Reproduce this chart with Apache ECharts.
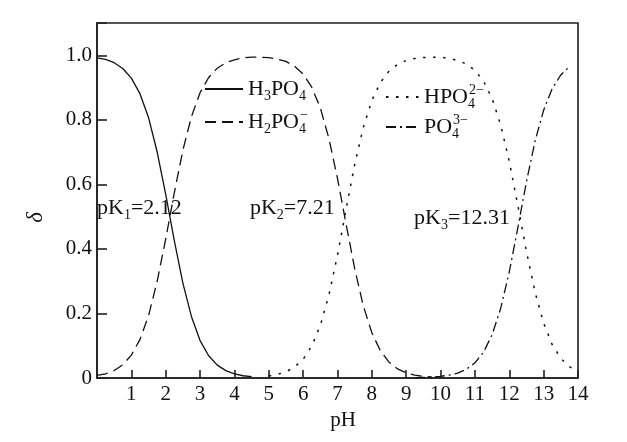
<!DOCTYPE html>
<html>
<head>
<meta charset="utf-8">
<script src="https://cdn.jsdelivr.net/npm/echarts@6/dist/echarts.min.js"></script>
<style>html,body{margin:0;padding:0;background:#fff}#c{width:627px;height:442px}</style>
</head>
<body>
<div id="c"></div>
<script>
// ---- data ----
const seriesNames = ['H3PO4', 'H2PO4-', 'HPO4 2-', 'PO4 3-'];

const pH_H3PO4 = [0,0.25,0.5,0.75,1,1.25,1.5,1.75,2,2.25,2.5,2.75,3,3.25,3.5,3.75,4,4.25,4.5];
const d_H3PO4  = [0.992,0.987,0.977,0.959,0.929,0.881,0.807,0.701,0.569,0.426,0.294,0.190,0.116,0.069,0.040,0.023,0.013,0.007,0.004];

const pH_H2PO4 = [0,0.25,0.5,0.75,1,1.25,1.5,1.75,2,2.25,2.5,2.75,3,3.25,3.5,3.75,4,4.25,4.5,4.75,5,5.25,5.5,5.75,6,6.25,6.5,6.75,7,7.25,7.5,7.75,8,8.25,8.5,8.75,9,9.25,9.5,9.75];
const d_H2PO4  = [0.008,0.013,0.023,0.041,0.071,0.119,0.193,0.299,0.431,0.574,0.706,0.810,0.884,0.931,0.960,0.977,0.986,0.992,0.994,0.994,0.993,0.988,0.981,0.966,0.942,0.901,0.837,0.742,0.618,0.477,0.339,0.224,0.140,0.084,0.049,0.028,0.016,0.009,0.005,0.003];

const pH_HPO4 = [5,5.25,5.5,5.75,6,6.25,6.5,6.75,7,7.25,7.5,7.75,8,8.25,8.5,8.75,9,9.25,9.5,9.75,10,10.25,10.5,10.75,11,11.25,11.5,11.75,12,12.25,12.5,12.75,13,13.25,13.5,13.75,14];
const d_HPO4  = [0.006,0.011,0.019,0.034,0.058,0.099,0.163,0.257,0.381,0.523,0.661,0.776,0.860,0.916,0.951,0.972,0.984,0.990,0.993,0.994,0.994,0.990,0.984,0.973,0.953,0.920,0.866,0.784,0.671,0.534,0.392,0.266,0.170,0.103,0.061,0.035,0.020];

const pH_PO4 = [9.25,9.5,9.75,10,10.25,10.5,10.75,11,11.25,11.5,11.75,12,12.25,12.5,12.75,13,13.25,13.5,13.75];
const d_PO4  = [0.001,0.002,0.003,0.005,0.009,0.015,0.027,0.047,0.080,0.134,0.216,0.329,0.466,0.608,0.734,0.830,0.897,0.939,0.965];

const pkSub   = ['1', '2', '3'];
const pkValue = ['2.12', '7.21', '12.31'];
const pkX     = [0, 4.45, 9.23];
const pkY     = [0.525, 0.525, 0.495];

const xTicks = [0,1,2,3,4,5,6,7,8,9,10,11,12,13,14];
const yTicks = [0,0.2,0.4,0.6,0.8,1.0];

// ---- helpers ----
const FONT = 'Liberation Serif';
const INK = '#111';
const AX = '#231f20';
const pairs = (xs, ys) => xs.map((x, i) => [x, ys[i]]);

const rich = {
  n:  { fontFamily: FONT, fontSize: 22, lineHeight: 28, color: INK },
  b:  { fontFamily: FONT, fontSize: 14, lineHeight: 14, verticalAlign: 'bottom', color: INK },
  bz: { fontFamily: FONT, fontSize: 14, lineHeight: 14, verticalAlign: 'bottom', width: 1, color: INK },
  p:  { fontFamily: FONT, fontSize: 14, lineHeight: 19, verticalAlign: 'top', color: INK }
};
const legendText = {
  'H3PO4':   '{n|H}{b|3}{n|PO}{b|4}',
  'H2PO4-':  '{n|H}{b|2}{n|PO}{bz|4}{p|−}',
  'HPO4 2-': '{n|HPO}{bz|4}{p|2−}',
  'PO4 3-':  '{n|PO}{bz|4}{p|3−}'
};

const lineSeries = (name, xs, ys, dash, w) => ({
  name, type: 'line', data: pairs(xs, ys),
  symbol: 'none', showSymbol: false, silent: true,
  lineStyle: { color: INK, width: w, type: dash },
  itemStyle: { color: INK },
  z: 3
});

const legendCommon = {
  orient: 'vertical', itemWidth: 38, itemHeight: 14,
  selectedMode: false, padding: 0,
  itemStyle: { color: 'rgba(0,0,0,0)', borderColor: 'rgba(0,0,0,0)', borderWidth: 0, opacity: 0 },
  formatter: n => legendText[n],
  textStyle: { rich, fontFamily: FONT, fontSize: 22, color: INK }
};

const option = {
  animation: false,
  backgroundColor: '#fff',
  grid: { left: 97, right: 49, top: 23, bottom: 64, show: true, borderColor: AX, borderWidth: 1.6, backgroundColor: 'transparent' },
  legend: [
    Object.assign({}, legendCommon, { data: [seriesNames[0], seriesNames[1]], left: 204, top: 78, itemGap: 5 }),
    Object.assign({}, legendCommon, { data: [seriesNames[2], seriesNames[3]], left: 385, top: 83, itemWidth: 33, itemGap: 2 })
  ],
  xAxis: {
    type: 'value', min: xTicks[0], max: xTicks[xTicks.length - 1], interval: 1,
    name: 'pH', nameLocation: 'middle', nameGap: 30,
    nameTextStyle: { fontFamily: FONT, fontSize: 21, color: INK, padding: [0, 0, 0, 11] },
    axisLine: { show: true, lineStyle: { color: AX, width: 1.6 } },
    axisTick: { show: true, inside: true, length: 8, lineStyle: { color: AX, width: 1.6 } },
    axisLabel: { margin: 6, fontFamily: FONT, fontSize: 21, color: INK, showMinLabel: false,
      formatter: v => (v === 0 ? '' : String(v)) },
    splitLine: { show: false }
  },
  yAxis: {
    type: 'value', min: 0, max: 1.1, interval: 0.2,
    name: 'δ', nameLocation: 'middle', nameGap: 50, nameRotate: 90,
    nameTextStyle: { fontFamily: FONT, fontSize: 23, fontStyle: 'italic', color: INK, padding: [0, 34, 0, 0] },
    axisLine: { show: true, lineStyle: { color: AX, width: 1.6 } },
    axisTick: { show: true, inside: true, length: 10, lineStyle: { color: AX, width: 1.6 } },
    axisLabel: { margin: 5, fontFamily: FONT, fontSize: 21, color: INK,
      formatter: v => (v === 0 ? '0' : (v > 1.05 ? '' : v.toFixed(1))) },
    splitLine: { show: false }
  },
  series: [
    lineSeries(seriesNames[0], pH_H3PO4, d_H3PO4, 'solid', 1.3),
    lineSeries(seriesNames[1], pH_H2PO4, d_H2PO4, [11, 6], 1.3),
    lineSeries(seriesNames[2], pH_HPO4, d_HPO4, [2.5, 7.5], 1.5),
    lineSeries(seriesNames[3], pH_PO4, d_PO4, [10, 4, 2, 4], 1.3),
    {
      name: 'pK', type: 'scatter', silent: true, symbolSize: 0, z: 5,
      itemStyle: { opacity: 1, color: INK },
      data: pkX.map((x, i) => ({ value: [x, pkY[i]], sub: pkSub[i], val: pkValue[i] })),
      label: {
        show: true, position: [0, 0], align: 'left', verticalAlign: 'middle', opacity: 1,
        color: INK,
        formatter: p => '{n|pK}{b|' + p.data.sub + '}{n|=' + p.data.val + '}',
        rich
      }
    }
  ]
};

const chart = echarts.init(document.getElementById('c'), null, { renderer: 'canvas' });
chart.setOption(option);
</script>
</body>
</html>
